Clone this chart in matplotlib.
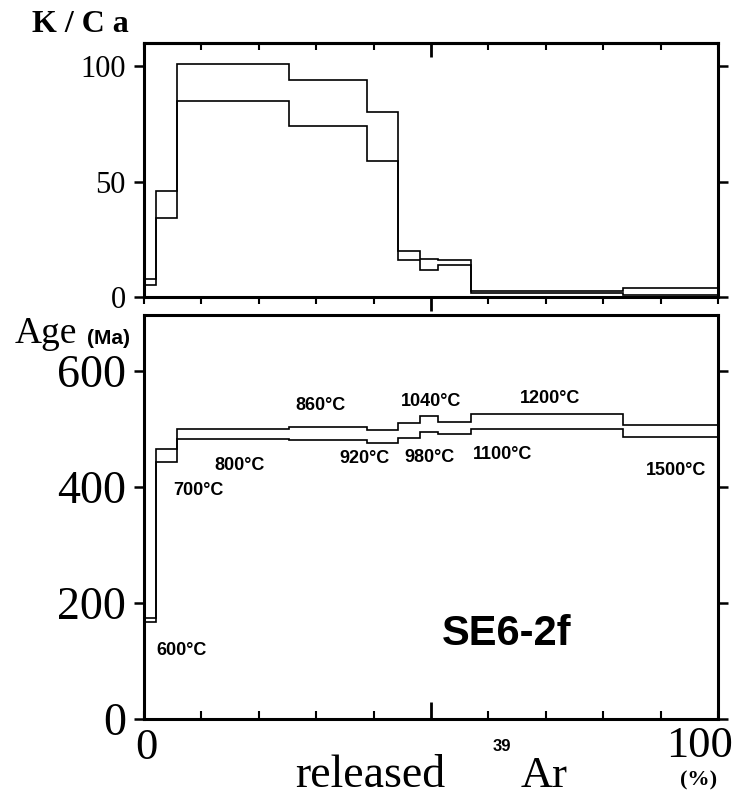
import matplotlib
matplotlib.use('Agg')
import matplotlib.pyplot as plt
from matplotlib.ticker import MultipleLocator, FixedLocator

# ---------------- data ----------------
temps = ['600', '700', '800', '860', '920', '980', '1040', '1100', '1200', '1500']
ar39_edges = [0, 2.1, 5.8, 25.2, 38.8, 44.2, 48.0, 51.2, 56.9, 83.4, 100]
kca_hi = [8, 46, 101, 94, 80, 19.8, 16.4, 16.2, 2.8, 3.8]
kca_lo = [5, 34, 85, 74, 59, 16.0, 11.6, 13.8, 1.8, 1.0]
age_hi = [175, 465, 500, 504, 498, 511, 523, 513, 526, 507]
age_lo = [167, 443, 483, 482, 476, 485, 495, 491, 501, 487]
sample = 'SE6-2f'

kca_ticks = [0, 50, 100]
age_ticks = [0, 200, 400, 600]

# label anchor positions (data coords of lower panel)
label_x = [6.6, 9.4, 16.6, 30.7, 38.5, 49.7, 50.0, 62.4, 70.7, 92.7]
label_y = [119, 395, 438, 541, 450, 452, 548, 457, 553, 428]

W, H = 732, 796
SERIF = ['Liberation Serif', 'DejaVu Serif']
SANS = ['Liberation Sans', 'DejaVu Sans']

fig = plt.figure(figsize=(W / 100, H / 100), dpi=100)

def fx(px):
    return px / W

def fy(py):
    return 1 - py / H

ax1 = fig.add_axes([fx(144), fy(297), fx(718) - fx(144), fy(43) - fy(297)])
ax2 = fig.add_axes([fx(144), fy(719), fx(718) - fx(144), fy(315) - fy(719)])

LW = 1.2
for ax in (ax1, ax2):
    for s in ax.spines.values():
        s.set_linewidth(2.2)
    ax.set_xlim(0, 100)

# steps
ax1.stairs(kca_hi, ar39_edges, baseline=None, color='black', lw=LW)
ax1.stairs(kca_lo, ar39_edges, baseline=None, color='black', lw=LW)
ax2.stairs(age_hi, ar39_edges, baseline=None, color='black', lw=LW)
ax2.stairs(age_lo, ar39_edges, baseline=None, color='black', lw=LW)

# ---- upper axis ----
ax1.set_ylim(0, 110)
ax1.set_yticks(kca_ticks)
ax1.set_yticklabels([str(t) for t in kca_ticks])
ax1.tick_params(axis='y', which='both', direction='out', left=True, right=True,
                length=7, width=1.8, pad=6, labelsize=22)
for lbl in ax1.get_yticklabels():
    lbl.set_fontfamily(SERIF)
ax1.xaxis.set_major_locator(FixedLocator([50]))
ax1.xaxis.set_minor_locator(MultipleLocator(10))
ax1.tick_params(axis='x', which='both', direction='out', bottom=True, top=False,
                labelbottom=False)
ax1.tick_params(axis='x', which='major', length=10, width=2)
ax1.tick_params(axis='x', which='minor', length=5, width=1.5)
sec = ax1.secondary_xaxis('top')
sec.xaxis.set_major_locator(FixedLocator([50]))
sec.xaxis.set_minor_locator(MultipleLocator(10))
sec.tick_params(axis='x', which='both', direction='in', labeltop=False)
sec.tick_params(axis='x', which='major', length=10, width=2)
sec.tick_params(axis='x', which='minor', length=5, width=1.5)
sec.spines['top'].set_linewidth(2.2)

# ---- lower axis ----
ax2.set_ylim(0, 697)
ax2.set_yticks(age_ticks)
ax2.set_yticklabels([str(t) for t in age_ticks])
ax2.tick_params(axis='y', which='both', direction='out', left=True, right=True,
                length=7, width=1.8, pad=6, labelsize=33)
for lbl in ax2.get_yticklabels():
    lbl.set_fontfamily(SERIF)
ax2.xaxis.set_major_locator(FixedLocator([50]))
ax2.xaxis.set_minor_locator(MultipleLocator(10))
ax2.tick_params(axis='x', which='both', direction='in', bottom=True, top=False,
                labelbottom=False)
ax2.tick_params(axis='x', which='major', length=12, width=2)
ax2.tick_params(axis='x', which='minor', length=6, width=1.5)

for t, x, y in zip(temps, label_x, label_y):
    ax2.text(x, y, t + '°C', ha='center', va='center', fontsize=13,
             fontweight='bold', family=SANS)

ax2.text(63.2, 147, sample, ha='center', va='center', fontsize=30,
         fontweight='bold', family=SANS)

# ---- outer texts ----
fig.text(fx(80), fy(25), 'K / C a', ha='center', va='center', fontsize=23,
         fontweight='bold', family=SERIF)
fig.text(fx(15), fy(343), 'Age', ha='left', va='baseline', fontsize=27,
         family=SERIF)
fig.text(fx(108), fy(339), '(Ma)', ha='center', va='center', fontsize=15,
         fontweight='bold', family=SANS)
fig.text(fx(146), fy(748), '0', ha='center', va='center', fontsize=32,
         family=SERIF)
fig.text(fx(700), fy(746), '100', ha='center', va='center', fontsize=32,
         family=SERIF)
fig.text(fx(699), fy(780), '(%)', ha='center', va='center', fontsize=16,
         fontweight='bold', family=SERIF)
fig.text(fx(295), fy(787), 'released', ha='left', va='baseline', fontsize=33,
         family=SERIF)
fig.text(fx(493), fy(751), '39', ha='left', va='baseline', fontsize=12,
         fontweight='bold', family=SANS)
fig.text(fx(521), fy(787), 'Ar', ha='left', va='baseline', fontsize=32,
         family=SERIF)

fig.savefig('out.png', dpi=100)
